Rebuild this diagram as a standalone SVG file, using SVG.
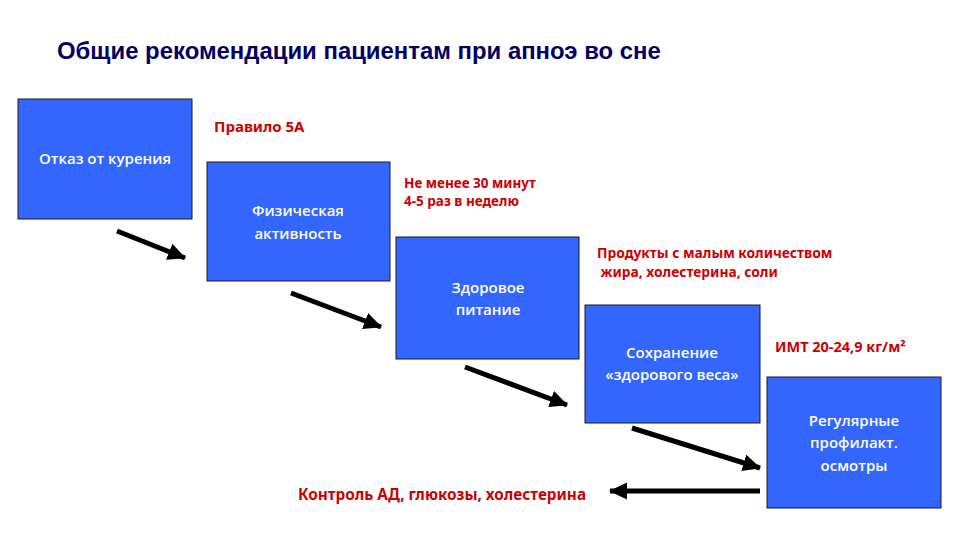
<svg xmlns="http://www.w3.org/2000/svg" width="960" height="540" viewBox="0 0 960 540">
<style>
.box{fill:#3366ff;stroke:#1a1a1a;stroke-width:1}
.bt{font-family:"Open Sans","Noto Sans",sans-serif;font-size:15px;font-weight:600;fill:#ffffff;text-anchor:middle}
.rt{font-family:"Noto Sans","Open Sans",sans-serif;font-size:13.5px;font-weight:bold;fill:#cc0000}
.title{font-family:"Liberation Sans",Arial,sans-serif;font-size:23.9px;font-weight:bold;fill:#000066}
.ar{stroke:#000;stroke-width:5;fill:none;marker-end:url(#ah)}
</style>
<defs>
<marker id="ah" markerWidth="4" markerHeight="4" refX="3.4" refY="2" orient="auto" markerUnits="strokeWidth">
<path d="M0,0.3 L3.6,2 L0,3.7 Z" fill="#000"/>
</marker>
</defs>
<rect width="960" height="540" fill="#fff"/>
<text class="title" x="57" y="59">Общие рекомендации пациентам при апноэ во сне</text>
<g id="n1"><rect class="box" x="18" y="99" width="174" height="120"/><text class="bt" x="105" y="164">Отказ от курения</text></g>
<g id="n2"><rect class="box" x="207" y="162" width="183" height="119"/><text class="bt" x="298" y="216">Физическая</text><text class="bt" x="298" y="239">активность</text></g>
<g id="n3"><rect class="box" x="396" y="237" width="183" height="122"/><text class="bt" x="488" y="293">Здоровое</text><text class="bt" x="488" y="315">питание</text></g>
<g id="n4"><rect class="box" x="585" y="305" width="175" height="118"/><text class="bt" x="672" y="358">Сохранение</text><text class="bt" x="672" y="380">«здорового веса»</text></g>
<g id="n5"><rect class="box" x="767" y="377" width="174" height="131"/><text class="bt" x="854" y="426">Регулярные</text><text class="bt" x="854" y="448">профилакт.</text><text class="bt" x="854" y="471">осмотры</text></g>
<g id="labels">
<text class="rt" x="214" y="132" style="font-size:15px">Правило 5А</text>
<text class="rt" x="404" y="188">Не менее 30 минут</text>
<text class="rt" x="404" y="206"> 4-5 раз в неделю</text>
<text class="rt" x="597" y="258" style="font-size:13.8px">Продукты с малым количеством</text>
<text class="rt" x="597" y="277" style="font-size:13.8px" xml:space="preserve"> жира, холестерина, соли</text>
<text class="rt" x="775" y="352" style="font-size:14.5px">ИМТ 20-24,9 кг/м²</text>
<text class="rt" x="298" y="500" style="font-size:15.3px">Контроль АД, глюкозы, холестерина</text>
</g>
<g id="connectors">
<line class="ar" x1="117" y1="231" x2="185" y2="258"/>
<line class="ar" x1="291" y1="293" x2="381" y2="327"/>
<line class="ar" x1="465" y1="367" x2="567" y2="405"/>
<line class="ar" x1="632" y1="428" x2="760" y2="468"/>
<line class="ar" x1="760" y1="491" x2="610" y2="491"/>
</g>
</svg>
